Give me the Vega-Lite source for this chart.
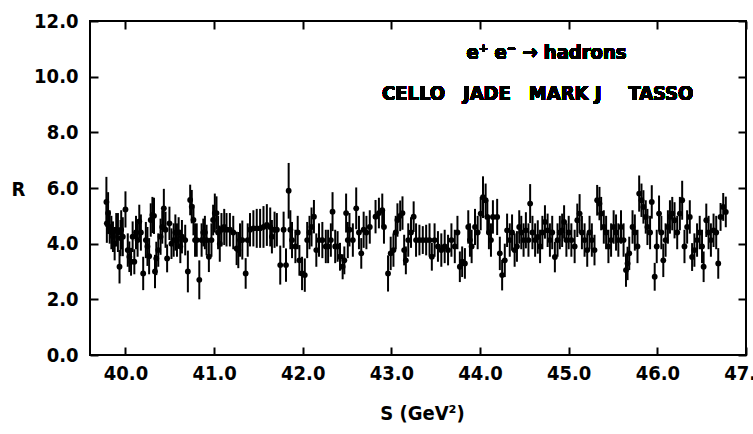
{
  "$schema": "https://vega.github.io/schema/vega-lite/v6.json",
  "width": 656,
  "height": 334,
  "autosize": {"type": "none"},
  "padding": {"left": 90, "top": 21, "right": 7, "bottom": 79},
  "background": "white",
  "config": {
    "view": {"stroke": "black", "strokeWidth": 2},
    "font": "'DejaVu Sans Condensed', 'Liberation Sans Narrow', 'Roboto Condensed', Roboto, sans-serif",
    "axis": {"grid": false, "labelFlush": false, "labelOverlap": false, "labelColor": "black", "titleColor": "black", "labelFont": "'DejaVu Sans Condensed', 'Liberation Sans Narrow', 'Roboto Condensed', Roboto, sans-serif", "titleFont": "'DejaVu Sans Condensed', 'Liberation Sans Narrow', 'Roboto Condensed', Roboto, sans-serif", "labelFontWeight": "bold", "titleFontWeight": "bold", "labelFontSize": 20, "titleFontSize": 20}
  },
  "resolve": {"axis": {"x": "independent", "y": "independent"}},
  "data": {"values": [
    {"s":39.785,"r":5.5,"e":0.9},{"s":39.79,"r":4.73,"e":0.7},{"s":39.804,"r":5.1,"e":0.75},{"s":39.822,"r":4.6,"e":0.6},{"s":39.841,"r":4.4,"e":0.6},{"s":39.859,"r":4.25,"e":0.55},{"s":39.878,"r":4.0,"e":0.6},{"s":39.896,"r":4.5,"e":0.6},{"s":39.915,"r":4.4,"e":0.7},{"s":39.933,"r":3.17,"e":0.6},{"s":39.945,"r":4.2,"e":0.65},{"s":39.952,"r":4.5,"e":0.7},{"s":39.97,"r":4.25,"e":0.7},{"s":40.0,"r":5.23,"e":0.65},{"s":40.026,"r":3.77,"e":0.6},{"s":40.044,"r":3.53,"e":0.55},{"s":40.063,"r":3.35,"e":0.5},{"s":40.081,"r":4.25,"e":0.55},{"s":40.1,"r":3.35,"e":0.45},{"s":40.119,"r":4.4,"e":0.6},{"s":40.137,"r":4.13,"e":0.6},{"s":40.156,"r":4.8,"e":0.6},{"s":40.174,"r":4.4,"e":0.65},{"s":40.2,"r":2.93,"e":0.6},{"s":40.23,"r":4.13,"e":0.65},{"s":40.248,"r":3.9,"e":0.7},{"s":40.267,"r":3.55,"e":0.65},{"s":40.285,"r":4.85,"e":0.6},{"s":40.304,"r":5.03,"e":0.65},{"s":40.322,"r":5.0,"e":0.65},{"s":40.333,"r":3.0,"e":0.6},{"s":40.348,"r":3.47,"e":0.6},{"s":40.37,"r":3.77,"e":0.6},{"s":40.396,"r":4.25,"e":0.65},{"s":40.415,"r":4.6,"e":0.6},{"s":40.433,"r":5.27,"e":0.7},{"s":40.452,"r":4.5,"e":0.65},{"s":40.47,"r":3.47,"e":0.5},{"s":40.496,"r":4.73,"e":0.6},{"s":40.519,"r":4.0,"e":0.55},{"s":40.544,"r":4.13,"e":0.6},{"s":40.563,"r":4.4,"e":0.65},{"s":40.581,"r":4.13,"e":0.6},{"s":40.6,"r":4.4,"e":0.55},{"s":40.619,"r":3.9,"e":0.6},{"s":40.637,"r":4.25,"e":0.6},{"s":40.674,"r":4.13,"e":0.55},{"s":40.704,"r":3.0,"e":0.75},{"s":40.73,"r":5.57,"e":0.55},{"s":40.748,"r":5.33,"e":0.6},{"s":40.767,"r":4.85,"e":0.55},{"s":40.785,"r":4.13,"e":0.6},{"s":40.804,"r":4.13,"e":0.6},{"s":40.833,"r":2.7,"e":0.7},{"s":40.859,"r":4.13,"e":0.6},{"s":40.878,"r":4.4,"e":0.5},{"s":40.896,"r":4.4,"e":0.6},{"s":40.915,"r":4.13,"e":0.55},{"s":40.941,"r":3.53,"e":0.55},{"s":40.97,"r":4.13,"e":0.6},{"s":40.989,"r":4.85,"e":0.55},{"s":41.008,"r":5.1,"e":0.7},{"s":41.027,"r":5.1,"e":0.6},{"s":41.045,"r":4.4,"e":0.6},{"s":41.064,"r":4.0,"e":0.65},{"s":41.083,"r":4.5,"e":0.6},{"s":41.114,"r":4.6,"e":0.65},{"s":41.14,"r":4.5,"e":0.6},{"s":41.178,"r":4.5,"e":0.6},{"s":41.216,"r":4.4,"e":0.6},{"s":41.254,"r":3.83,"e":0.6},{"s":41.273,"r":3.77,"e":0.65},{"s":41.292,"r":4.13,"e":0.6},{"s":41.318,"r":4.13,"e":0.7},{"s":41.356,"r":2.93,"e":0.55},{"s":41.379,"r":4.13,"e":0.6},{"s":41.405,"r":4.5,"e":0.6},{"s":41.443,"r":4.55,"e":0.65},{"s":41.481,"r":4.55,"e":0.7},{"s":41.519,"r":4.55,"e":0.7},{"s":41.557,"r":4.6,"e":0.75},{"s":41.595,"r":4.67,"e":0.75},{"s":41.633,"r":4.6,"e":0.7},{"s":41.652,"r":4.25,"e":0.6},{"s":41.682,"r":4.5,"e":0.65},{"s":41.708,"r":4.5,"e":0.6},{"s":41.746,"r":3.23,"e":0.7},{"s":41.784,"r":4.5,"e":0.65},{"s":41.811,"r":3.23,"e":0.6},{"s":41.841,"r":5.9,"e":1.0},{"s":41.86,"r":4.5,"e":0.7},{"s":41.879,"r":4.13,"e":0.65},{"s":41.917,"r":3.9,"e":0.6},{"s":41.943,"r":4.4,"e":0.6},{"s":41.962,"r":3.4,"e":0.55},{"s":41.992,"r":2.93,"e":0.6},{"s":42.023,"r":2.87,"e":0.6},{"s":42.05,"r":4.13,"e":0.65},{"s":42.076,"r":4.4,"e":0.6},{"s":42.099,"r":4.6,"e":0.7},{"s":42.126,"r":4.97,"e":0.6},{"s":42.153,"r":3.77,"e":0.6},{"s":42.183,"r":4.13,"e":0.6},{"s":42.221,"r":4.13,"e":0.65},{"s":42.26,"r":3.9,"e":0.6},{"s":42.286,"r":3.9,"e":0.6},{"s":42.317,"r":4.13,"e":0.6},{"s":42.336,"r":5.15,"e":0.7},{"s":42.366,"r":3.9,"e":0.6},{"s":42.393,"r":3.9,"e":0.55},{"s":42.42,"r":3.53,"e":0.5},{"s":42.45,"r":3.17,"e":0.45},{"s":42.469,"r":3.4,"e":0.5},{"s":42.489,"r":5.1,"e":0.7},{"s":42.508,"r":4.13,"e":0.65},{"s":42.527,"r":4.5,"e":0.6},{"s":42.565,"r":4.13,"e":0.6},{"s":42.603,"r":5.27,"e":0.75},{"s":42.634,"r":4.4,"e":0.6},{"s":42.66,"r":3.65,"e":0.55},{"s":42.687,"r":4.5,"e":0.65},{"s":42.718,"r":4.4,"e":0.6},{"s":42.756,"r":4.6,"e":0.6},
    {"s":42.821,"r":4.97,"e":0.6},{"s":42.859,"r":5.1,"e":0.55},{"s":42.897,"r":5.2,"e":0.6},{"s":42.916,"r":4.6,"e":0.6},{"s":42.962,"r":2.93,"e":0.65},{"s":42.992,"r":3.65,"e":0.6},{"s":43.023,"r":3.77,"e":0.6},{"s":43.049,"r":4.4,"e":0.6},{"s":43.068,"r":4.85,"e":0.6},{"s":43.099,"r":5.0,"e":0.55},{"s":43.125,"r":5.1,"e":0.6},{"s":43.144,"r":3.77,"e":0.55},{"s":43.163,"r":3.4,"e":0.5},{"s":43.19,"r":4.13,"e":0.6},{"s":43.221,"r":4.4,"e":0.55},{"s":43.251,"r":4.97,"e":0.55},{"s":43.278,"r":4.13,"e":0.6},{"s":43.316,"r":4.13,"e":0.55},{"s":43.354,"r":4.13,"e":0.5},{"s":43.392,"r":4.13,"e":0.55},{"s":43.43,"r":4.13,"e":0.6},{"s":43.456,"r":3.53,"e":0.5},{"s":43.487,"r":4.13,"e":0.6},{"s":43.525,"r":3.9,"e":0.55},{"s":43.563,"r":3.77,"e":0.6},{"s":43.601,"r":3.9,"e":0.6},{"s":43.639,"r":3.77,"e":0.55},{"s":43.677,"r":4.13,"e":0.6},{"s":43.715,"r":3.9,"e":0.6},{"s":43.745,"r":4.4,"e":0.6},{"s":43.772,"r":3.17,"e":0.55},{"s":43.798,"r":3.35,"e":0.55},{"s":43.829,"r":3.29,"e":0.55},{"s":43.867,"r":4.6,"e":0.6},{"s":43.886,"r":4.13,"e":0.6},{"s":43.905,"r":3.9,"e":0.6},{"s":43.943,"r":4.6,"e":0.65},{"s":43.973,"r":4.4,"e":0.6},{"s":44.007,"r":5.08,"e":0.6},{"s":44.033,"r":5.67,"e":0.75},{"s":44.063,"r":5.56,"e":0.6},{"s":44.082,"r":4.96,"e":0.6},{"s":44.1,"r":4.4,"e":0.6},{"s":44.123,"r":4.13,"e":0.6},{"s":44.145,"r":4.96,"e":0.6},{"s":44.193,"r":4.96,"e":0.65},{"s":44.223,"r":3.65,"e":0.6},{"s":44.249,"r":2.87,"e":0.55},{"s":44.279,"r":3.4,"e":0.6},{"s":44.305,"r":4.48,"e":0.6},{"s":44.335,"r":4.13,"e":0.6},{"s":44.361,"r":4.4,"e":0.65},{"s":44.39,"r":3.77,"e":0.6},{"s":44.416,"r":3.9,"e":0.55},{"s":44.442,"r":4.6,"e":0.6},{"s":44.465,"r":4.4,"e":0.6},{"s":44.491,"r":4.13,"e":0.6},{"s":44.517,"r":4.48,"e":0.65},{"s":44.546,"r":4.13,"e":0.6},{"s":44.565,"r":5.44,"e":0.7},{"s":44.591,"r":4.4,"e":0.6},{"s":44.621,"r":4.13,"e":0.6},{"s":44.651,"r":4.24,"e":0.6},{"s":44.677,"r":3.9,"e":0.6},{"s":44.703,"r":4.4,"e":0.6},{"s":44.732,"r":4.78,"e":0.6},{"s":44.762,"r":4.48,"e":0.6},{"s":44.788,"r":4.13,"e":0.6},{"s":44.814,"r":4.4,"e":0.6},{"s":44.844,"r":3.52,"e":0.55},{"s":44.874,"r":4.13,"e":0.6},{"s":44.9,"r":4.4,"e":0.6},{"s":44.926,"r":4.48,"e":0.6},{"s":44.948,"r":4.78,"e":0.6},{"s":44.974,"r":4.13,"e":0.6},{"s":45.0,"r":4.4,"e":0.6},{"s":45.03,"r":4.13,"e":0.6},{"s":45.067,"r":3.9,"e":0.6},{"s":45.097,"r":4.84,"e":0.6},{"s":45.123,"r":5.08,"e":0.7},{"s":45.149,"r":4.4,"e":0.6},{"s":45.179,"r":4.13,"e":0.6},{"s":45.209,"r":3.77,"e":0.6},{"s":45.235,"r":4.4,"e":0.6},{"s":45.261,"r":4.13,"e":0.6},{"s":45.291,"r":3.77,"e":0.55},{"s":45.321,"r":5.56,"e":0.55},{"s":45.347,"r":5.44,"e":0.6},{"s":45.366,"r":5.08,"e":0.6},{"s":45.396,"r":4.6,"e":0.6},{"s":45.422,"r":4.4,"e":0.6},{"s":45.448,"r":3.9,"e":0.6},{"s":45.478,"r":4.13,"e":0.6},{"s":45.507,"r":4.6,"e":0.6},{"s":45.534,"r":4.4,"e":0.65},{"s":45.56,"r":4.13,"e":0.6},{"s":45.59,"r":4.6,"e":0.6},{"s":45.619,"r":4.13,"e":0.6},{"s":45.646,"r":3.05,"e":0.6},{"s":45.664,"r":3.29,"e":0.6},{"s":45.683,"r":3.65,"e":0.6},{"s":45.72,"r":4.6,"e":0.6},{"s":45.746,"r":4.4,"e":0.65},{"s":45.776,"r":3.9,"e":0.6},{"s":45.795,"r":5.8,"e":0.65},{"s":45.821,"r":5.56,"e":0.6},{"s":45.843,"r":5.32,"e":0.6},{"s":45.869,"r":4.96,"e":0.6},{"s":45.888,"r":4.6,"e":0.65},{"s":45.918,"r":4.4,"e":0.6},{"s":45.937,"r":5.5,"e":0.6},{"s":45.97,"r":2.81,"e":0.5},{"s":45.993,"r":3.9,"e":0.6},{"s":46.019,"r":5.08,"e":0.65},{"s":46.045,"r":4.4,"e":0.6},{"s":46.067,"r":3.4,"e":0.6},{"s":46.093,"r":4.13,"e":0.6},{"s":46.119,"r":4.6,"e":0.6},{"s":46.142,"r":4.96,"e":0.6},{"s":46.168,"r":5.08,"e":0.6},{"s":46.194,"r":4.84,"e":0.65},{"s":46.224,"r":4.4,"e":0.6},{"s":46.254,"r":5.08,"e":0.6},{"s":46.28,"r":5.56,"e":0.7},{"s":46.306,"r":3.9,"e":0.6},{"s":46.336,"r":4.6,"e":0.6},{"s":46.366,"r":4.96,"e":0.6},{"s":46.392,"r":3.52,"e":0.5},{"s":46.418,"r":3.77,"e":0.6},{"s":46.448,"r":4.13,"e":0.6},{"s":46.478,"r":4.4,"e":0.6},{"s":46.504,"r":3.9,"e":0.6},{"s":46.522,"r":3.17,"e":0.55},{"s":46.552,"r":4.84,"e":0.6},{"s":46.578,"r":4.4,"e":0.6},{"s":46.604,"r":4.13,"e":0.6},{"s":46.634,"r":4.48,"e":0.6},{"s":46.664,"r":4.4,"e":0.6},{"s":46.687,"r":3.29,"e":0.55},{"s":46.713,"r":4.96,"e":0.5},{"s":46.743,"r":5.32,"e":0.5},{"s":46.772,"r":5.14,"e":0.55}
  ]},
  "layer": [
    {
      "mark": {"type": "errorbar", "rule": {"stroke": "black", "strokeWidth": 2}},
      "encoding": {
        "x": {"field": "s", "type": "quantitative", "scale": {"domain": [39.6, 47.0], "nice": false, "zero": false}, "axis": null},
        "y": {"field": "r", "type": "quantitative", "scale": {"domain": [0, 12], "nice": false}, "axis": null},
        "yError": {"field": "e"}
      }
    },
    {
      "mark": {"type": "circle", "color": "black", "opacity": 0, "size": 1},
      "encoding": {
        "x": {"field": "s", "type": "quantitative",
              "axis": {"orient": "top", "values": [40, 41, 42, 43, 44, 45, 46, 47], "labels": false, "title": null, "domain": false, "ticks": true, "tickSize": 8, "tickWidth": 2, "tickColor": "#000000", "offset": -8}},
        "y": {"field": "r", "type": "quantitative",
              "axis": {"orient": "right", "values": [0, 2, 4, 6, 8, 10, 12], "labels": false, "title": null, "domain": false, "ticks": true, "tickSize": 8, "tickWidth": 2, "tickColor": "#000000", "offset": -8}}
      }
    },
    {
      "mark": {"type": "circle", "color": "black", "opacity": 1, "size": 34},
      "encoding": {
        "x": {"field": "s", "type": "quantitative",
              "axis": {"orient": "bottom", "values": [40, 41, 42, 43, 44, 45, 46, 47], "format": ".1f", "domain": false, "ticks": true, "tickSize": 8, "tickWidth": 2, "tickColor": "#000000", "offset": -8, "labelPadding": 8, "title": "S (GeV²)", "titleBaseline": "middle", "titleY": 66, "titleX": 332}},
        "y": {"field": "r", "type": "quantitative",
              "axis": {"orient": "left", "values": [0, 2, 4, 6, 8, 10, 12], "format": ".1f", "domain": false, "ticks": true, "tickSize": 8, "tickWidth": 2, "tickColor": "#000000", "offset": -8, "labelPadding": 12, "title": "R", "titleAngle": 0, "titleAlign": "center", "titleBaseline": "middle", "titleX": -80, "titleY": 168}}
      }
    },
    {
      "mark": {"type": "text", "font": "'DejaVu Sans Condensed', 'Liberation Sans Narrow', 'Roboto Condensed', Roboto, sans-serif", "fontWeight": "bold", "fontSize": 20, "color": "black", "align": "center", "baseline": "middle"},
      "encoding": {"x": {"datum": 44.75, "axis": null}, "y": {"datum": 10.85, "axis": null}, "text": {"value": "e⁺ e⁻ → hadrons"}}
    },
    {
      "mark": {"type": "text", "font": "'DejaVu Sans Condensed', 'Liberation Sans Narrow', 'Roboto Condensed', Roboto, sans-serif", "fontWeight": "bold", "fontSize": 20, "color": "black", "align": "center", "baseline": "middle"},
      "encoding": {"x": {"datum": 44.65, "axis": null}, "y": {"datum": 9.38, "axis": null}, "text": {"value": "CELLO\u2003JADE\u2003MARK J\u2003\u2002TASSO"}}
    }
  ]
}
